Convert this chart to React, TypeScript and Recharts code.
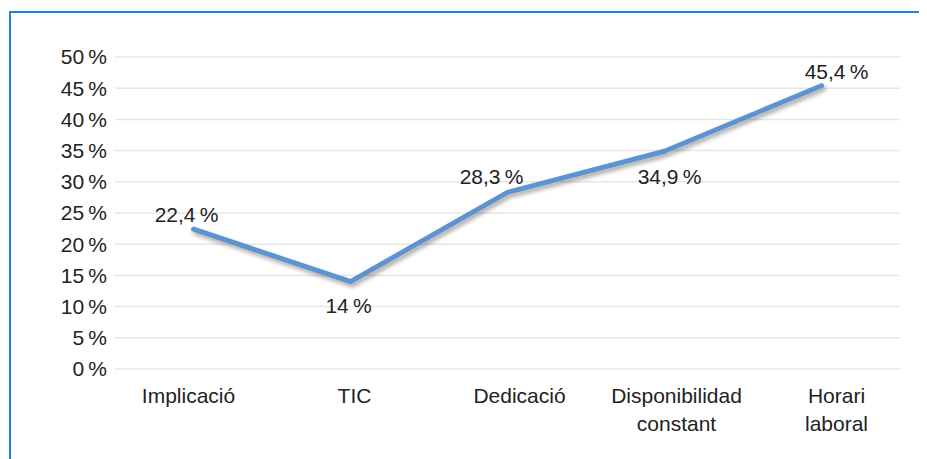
import { LineChart, Line, XAxis, YAxis, CartesianGrid, LabelList } from 'recharts'

const categorias = ['Implicació', 'TIC', 'Dedicació', 'Disponibilidad\nconstant', 'Horari\nlaboral']
const valores = [22.4, 14, 28.3, 34.9, 45.4]
const ticksY = [0, 5, 10, 15, 20, 25, 30, 35, 40, 45, 50]

// desplazamiento de etiquetas [dx, dy] respecto al punto
const posEtiquetas = [[-7, -7], [-2, 31], [-16, -8], [5, 33], [15, -7]]
const desplTicks = [-5, 4, 12, 12, 15]

const data = categorias.map((name, i) => ({ name, valor: valores[i] }))

const FONT = '"Liberation Sans", Arial, Helvetica, sans-serif'
const TEXTO = '#222'
const TAM = 21

const fmt = (v: number) => `${String(v).replace('.', ',')}\u2009%`

const TickX = ({ x, y, payload, index }: any) => {
    const lineas = String(payload.value).split('\n')
    return (
        <text
            x={x + desplTicks[index]}
            y={y + 26}
            textAnchor="middle"
            fontSize={TAM}
            fontFamily={FONT}
            fill={TEXTO}
        >
            {lineas.map((l, i) => (
                <tspan key={i} x={x + desplTicks[index]} dy={i === 0 ? 0 : 28}>
                    {l}
                </tspan>
            ))}
        </text>
    )
}

const Etiqueta = ({ x, y, value, index }: any) => {
    const [dx, dy] = posEtiquetas[index]
    return (
        <text
            x={x + dx}
            y={y + dy}
            textAnchor="middle"
            fontSize={TAM}
            fontFamily={FONT}
            fill={TEXTO}
        >
            {fmt(value)}
        </text>
    )
}

export default function App() {
    return (
        <div style={{ position: 'relative', width: 919, height: 451, background: '#fff' }}>
            <div
                style={{
                    position: 'absolute',
                    left: 1,
                    top: 3,
                    right: -20,
                    bottom: -20,
                    borderTop: '2px solid #1a84e0',
                    borderLeft: '2px solid #1a84e0',
                }}
            />
            <div style={{ position: 'absolute', left: 0, top: 0 }}>
                <LineChart
                    width={919}
                    height={451}
                    data={data}
                    margin={{ top: 49, right: 27, left: 0, bottom: 0 }}
                >
                    <defs>
                        <filter id="sombra" x="-10%" y="-20%" width="120%" height="140%">
                            <feDropShadow dx="2" dy="3" stdDeviation="2" floodColor="#000" floodOpacity="0.35" />
                        </filter>
                    </defs>
                    <CartesianGrid vertical={false} stroke="#e6e6e6" strokeWidth={1.5} />
                    <XAxis
                        dataKey="name"
                        axisLine={false}
                        tickLine={false}
                        height={90}
                        interval={0}
                        padding={{ left: 78.5, right: 78.5 }}
                        tick={<TickX />}
                    />
                    <YAxis
                        domain={[0, 50]}
                        ticks={ticksY}
                        axisLine={false}
                        tickLine={false}
                        width={107}
                        tickFormatter={(v) => `${v}\u2009%`}
                        tick={{ fontSize: TAM, fontFamily: FONT, fill: TEXTO }}
                    />
                    <Line
                        type="linear"
                        dataKey="valor"
                        stroke="#5d93cf"
                        strokeWidth={5}
                        strokeLinecap="round"
                        strokeLinejoin="round"
                        dot={false}
                        activeDot={false}
                        filter="url(#sombra)"
                        isAnimationActive={false}
                    >
                        <LabelList dataKey="valor" content={<Etiqueta />} />
                    </Line>
                </LineChart>
            </div>
        </div>
    )
}
